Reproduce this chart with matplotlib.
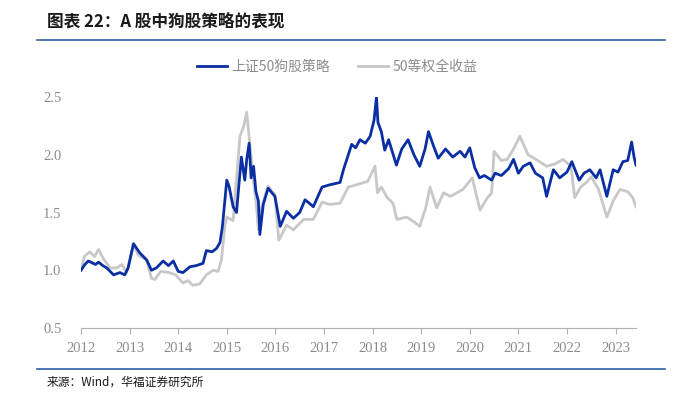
import matplotlib.pyplot as plt
from matplotlib.lines import Line2D

plt.rcParams['font.family'] = ['Noto Sans CJK SC', 'DejaVu Sans']

# decimal years
t_dog = [2012.0, 2012.08, 2012.15, 2012.3, 2012.36, 2012.45, 2012.53, 2012.67, 2012.8,
         2012.9, 2012.97, 2013.08, 2013.21, 2013.35, 2013.45, 2013.55, 2013.69, 2013.8,
         2013.9, 2014.0, 2014.1, 2014.24, 2014.37, 2014.51, 2014.58, 2014.7, 2014.79,
         2014.86, 2014.91, 2015.0, 2015.05, 2015.13, 2015.2, 2015.27, 2015.3, 2015.37,
         2015.41, 2015.46, 2015.5, 2015.55, 2015.6, 2015.65, 2015.68, 2015.75, 2015.85,
         2015.99, 2016.1, 2016.23, 2016.37, 2016.5, 2016.61, 2016.7, 2016.78, 2016.96,
         2017.12, 2017.33, 2017.4, 2017.57, 2017.65, 2017.74, 2017.85, 2017.95, 2018.03,
         2018.08, 2018.11, 2018.18, 2018.25, 2018.33, 2018.49, 2018.6, 2018.73, 2018.85,
         2018.97, 2019.08, 2019.15, 2019.25, 2019.35, 2019.5, 2019.65, 2019.8, 2019.9,
         2020.0, 2020.1, 2020.2, 2020.3, 2020.45, 2020.52, 2020.65, 2020.8, 2020.9,
         2021.0, 2021.1, 2021.24, 2021.35, 2021.5, 2021.58, 2021.72, 2021.85, 2022.0,
         2022.1, 2022.25, 2022.35, 2022.47, 2022.6, 2022.68, 2022.82, 2022.95, 2023.05,
         2023.15, 2023.25, 2023.33, 2023.38, 2023.42]
dog = [1.0, 1.05, 1.08, 1.05, 1.07, 1.04, 1.02, 0.96, 0.98,
       0.96, 1.02, 1.23, 1.15, 1.09, 1.0, 1.02, 1.08, 1.04,
       1.08, 0.99, 0.98, 1.03, 1.04, 1.06, 1.17, 1.16, 1.19,
       1.24, 1.38, 1.78, 1.72, 1.55, 1.5, 1.84, 1.98, 1.78,
       1.96, 2.1, 1.8, 1.9, 1.68, 1.6, 1.31, 1.57, 1.71,
       1.64, 1.38, 1.51, 1.45, 1.5, 1.61, 1.58, 1.55, 1.72,
       1.74, 1.76, 1.87, 2.09, 2.06, 2.13, 2.1, 2.16, 2.3,
       2.5, 2.28, 2.2, 2.04, 2.13, 1.91, 2.05, 2.13, 2.0,
       1.9, 2.05, 2.2, 2.08, 1.97, 2.05, 1.98, 2.03, 1.98,
       2.06, 1.89, 1.8, 1.82, 1.78, 1.84, 1.82, 1.88, 1.96,
       1.84, 1.9, 1.93, 1.84, 1.8, 1.64, 1.87, 1.8, 1.85,
       1.94, 1.78, 1.84, 1.87, 1.8, 1.87, 1.64, 1.87, 1.85,
       1.94, 1.95, 2.11, 1.98, 1.91]

t_eq = [2012.0, 2012.07, 2012.18, 2012.28, 2012.36, 2012.46, 2012.6, 2012.74, 2012.84,
        2012.94, 2013.08, 2013.18, 2013.35, 2013.45, 2013.52, 2013.64, 2013.81, 2013.95,
        2014.1, 2014.2, 2014.3, 2014.44, 2014.58, 2014.72, 2014.82, 2014.89, 2014.96,
        2015.0, 2015.13, 2015.27, 2015.35, 2015.41, 2015.5, 2015.55, 2015.6, 2015.65,
        2015.72, 2015.85, 2015.99, 2016.07, 2016.23, 2016.37, 2016.58, 2016.78, 2016.96,
        2017.12, 2017.33, 2017.5, 2017.67, 2017.9, 2018.05, 2018.1, 2018.18,
        2018.3, 2018.42, 2018.5, 2018.7, 2018.85, 2018.97, 2019.1, 2019.18, 2019.32,
        2019.46, 2019.6, 2019.86, 2020.05, 2020.21, 2020.35, 2020.45, 2020.5, 2020.65,
        2020.77, 2020.9, 2021.03, 2021.2, 2021.4, 2021.58, 2021.75, 2021.92, 2022.08,
        2022.16, 2022.28, 2022.4, 2022.5, 2022.65, 2022.82, 2022.95, 2023.09, 2023.25,
        2023.35, 2023.42]
eq = [1.0, 1.12, 1.16, 1.12, 1.18, 1.1, 1.02, 1.02, 1.05,
      0.98, 1.22, 1.13, 1.09, 0.93, 0.92, 0.99, 0.98, 0.96,
      0.89, 0.91, 0.87, 0.88, 0.96, 1.0, 0.99, 1.09, 1.38,
      1.46, 1.43, 2.16, 2.25, 2.37, 1.98, 1.76, 1.6, 1.35,
      1.55, 1.73, 1.65, 1.26, 1.39, 1.35, 1.44, 1.44, 1.59,
      1.57, 1.58, 1.72, 1.74, 1.77, 1.9, 1.67, 1.72,
      1.63, 1.58, 1.44, 1.46, 1.42, 1.38, 1.55, 1.72, 1.54,
      1.67, 1.64, 1.7, 1.8, 1.52, 1.62, 1.67, 2.03, 1.95,
      1.96, 2.05, 2.16, 2.0, 1.95, 1.9, 1.92, 1.96, 1.9,
      1.63, 1.72, 1.76, 1.81, 1.7, 1.46, 1.6, 1.7, 1.68,
      1.63, 1.55]

years = list(range(2012, 2024))
yticks = [0.5, 1.0, 1.5, 2.0, 2.5]
blue = '#0a2ea4'
grey = '#c8c8c8'
tick_col = '#8c8c8c'

fig = plt.figure(figsize=(6.77, 3.95), dpi=100)
ax = fig.add_axes([81 / 677, 1 - 328 / 395, (636 - 81) / 677, (328 - 97) / 395])

ax.plot(t_eq, eq, color=grey, lw=2.0, zorder=2)
ax.plot(t_dog, dog, color=blue, lw=2.0, zorder=3)

ax.set_xlim(2012.0, 2023.42)
ax.set_ylim(0.5, 2.5)
ax.set_xticks(years)
ax.set_xticklabels([str(y) for y in years], family='Liberation Serif', fontsize=10.5, color=tick_col)
ax.set_yticks(yticks)
ax.set_yticklabels(['%.1f' % v for v in yticks], family='Liberation Serif', fontsize=10.5, color=tick_col)
ax.tick_params(axis='y', length=0, pad=14)
ax.tick_params(axis='x', length=4, color='#b0b0b0', pad=6)
for s in ['top', 'right', 'left']:
    ax.spines[s].set_visible(False)
ax.spines['bottom'].set_color('#b0b0b0')

handles = [Line2D([], [], color=blue, lw=2), Line2D([], [], color=grey, lw=2)]
fig.legend(handles, ['上证50狗股策略', '50等权全收益'], loc='center', bbox_to_anchor=(337 / 677, 1 - 67 / 395),
           ncol=2, frameon=False, fontsize=10, labelcolor='#8c8c8c', handlelength=2.2,
           handletextpad=0.3, columnspacing=2.0)

fig.text(47 / 677, 1 - 22 / 395, '图表 22：A 股中狗股策略的表现', fontsize=12, fontweight='bold',
         va='center', ha='left', color='#1a1a1a')
fig.add_artist(Line2D([37 / 677, 665 / 677], [1 - 40 / 395] * 2, color='#2e5ea8', lw=1.2))
fig.add_artist(Line2D([37 / 677, 665 / 677], [1 - 369 / 395] * 2, color='#2e5ea8', lw=1.2))
fig.text(47 / 677, 1 - 382 / 395, '来源：Wind，华福证券研究所', fontsize=8.5, va='center', ha='left',
         color='#1a1a1a')

fig.savefig('out.png', dpi=100)
